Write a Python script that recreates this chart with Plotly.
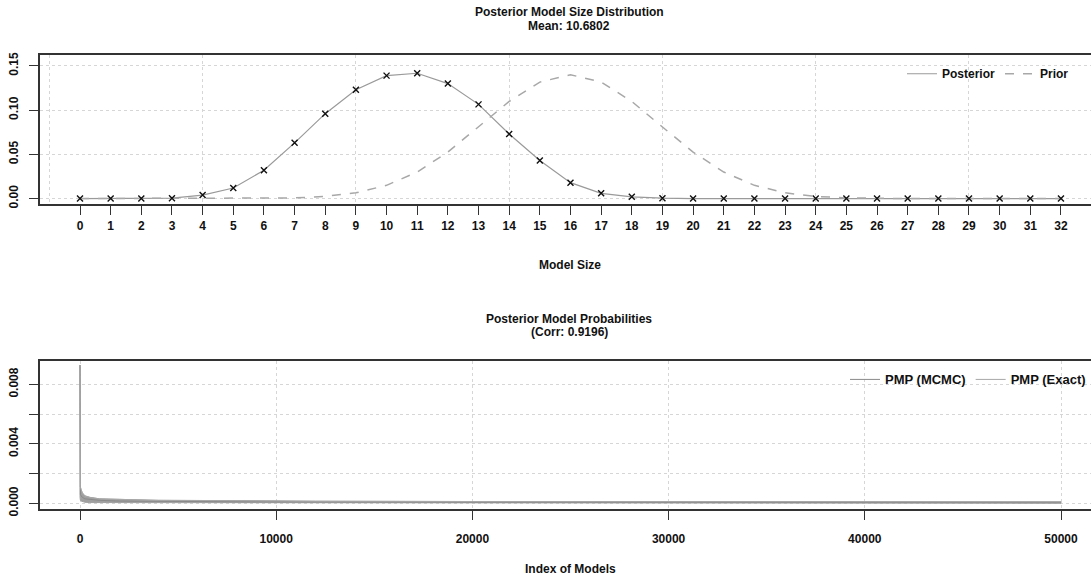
import plotly.graph_objects as go

W, H = 1091, 586

# ---------------- data ----------------
model_size = list(range(0, 33))
posterior = [0.0, 0.0, 0.0, 0.0005, 0.004, 0.012, 0.032, 0.063, 0.096, 0.123, 0.139,
             0.1417, 0.130, 0.1065, 0.073, 0.043, 0.018, 0.006, 0.002, 0.0005,
             0.0, 0.0, 0.0, 0.0, 0.0, 0.0, 0.0, 0.0, 0.0, 0.0, 0.0, 0.0, 0.0]
prior = [0.0, 0.0, 0.0, 0.0, 0.00001, 0.00005, 0.0002, 0.0008, 0.0025, 0.0065, 0.015,
         0.030, 0.0526, 0.0809, 0.1098, 0.1317, 0.1400, 0.1317, 0.1098, 0.0809,
         0.0526, 0.030, 0.015, 0.0065, 0.0025, 0.0008, 0.0002, 0.00005, 0.00001,
         0.0, 0.0, 0.0, 0.0]

pmp_index = [1, 2, 20, 60, 120, 250, 500, 1000, 2000, 4000, 8000, 12000, 20000,
             30000, 40000, 50000]
pmp_exact_upper = [0.0093, 0.0012, 0.0011, 0.0009, 0.0007, 0.0005, 0.0004, 0.0003,
                   0.00026, 0.0002, 0.00018, 0.00014, 0.00012, 0.0001, 0.0001, 0.0001]
pmp_exact_lower = [0.0093, 0.0004, 0.0002, 0.00015, 0.0001, 0.00007, 0.00005, 0.00004,
                   0.00003, 0.00002, 0.00002, 0.00001, 0.00001, 0.00001, 0.0, 0.0]
pmp_mcmc = [0.0093, 0.0008, 0.0006, 0.0005, 0.0004, 0.0003, 0.00025, 0.0002,
            0.00015, 0.00012, 0.0001, 0.00009, 0.00008, 0.00007, 0.00006, 0.00005]

title_top = "Posterior Model Size Distribution"
subtitle_top = "Mean: 10.6802"
title_bot = "Posterior Model Probabilities"
subtitle_bot = "(Corr: 0.9196)"

# ---------------- helpers ----------------
def px(x):
    return x / W

def py(y):
    return 1 - y / H

TITLE_FONT = dict(family="Liberation Sans Narrow, Liberation Sans, Arial", size=12,
                  color="#111111", weight="bold")
TICK_FONT = dict(family="Liberation Sans, Arial", size=12, color="#111111", weight="bold")
GRID = "#d6d6d6"
AXIS = "#333333"

fig = go.Figure()

# ---- top panel ----
fig.add_trace(go.Scatter(x=model_size, y=posterior, mode="lines", name="Posterior",
                         line=dict(color="#9a9a9a", width=1.2),
                         xaxis="x", yaxis="y", legend="legend", legendrank=1))
fig.add_trace(go.Scatter(x=model_size, y=prior, mode="lines", name="Prior",
                         line=dict(color="#a8a8a8", width=1.5, dash="dash"),
                         xaxis="x", yaxis="y", legend="legend", legendrank=2))
fig.add_trace(go.Scatter(x=model_size, y=posterior, mode="markers", showlegend=False,
                         marker=dict(symbol="x-thin-open", size=6, color="#111111",
                                     line=dict(width=1.4, color="#111111")),
                         xaxis="x", yaxis="y"))

# ---- bottom panel ----
fig.add_trace(go.Scatter(x=pmp_index + pmp_index[::-1],
                         y=pmp_exact_upper + pmp_exact_lower[::-1],
                         fill="toself", fillcolor="#a0a0a0", mode="lines",
                         line=dict(color="#a0a0a0", width=1), showlegend=False,
                         hoverinfo="skip", xaxis="x2", yaxis="y2"))
fig.add_trace(go.Scatter(x=pmp_index, y=pmp_mcmc, mode="lines", name="PMP (MCMC)",
                         line=dict(color="#8a8a8a", width=1),
                         xaxis="x2", yaxis="y2", legend="legend2", legendrank=1))
fig.add_trace(go.Scatter(x=pmp_index, y=pmp_exact_upper, mode="lines", name="PMP (Exact)",
                         line=dict(color="#a8a8a8", width=1),
                         xaxis="x2", yaxis="y2", legend="legend2", legendrank=2))

# ---------------- axes ----------------
top_dom_y = [py(204), py(53)]
bot_dom_y = [py(515), py(364)]
x_dom = [px(40), 1.0]

fig.update_layout(
    width=W, height=H, margin=dict(l=0, r=0, t=0, b=0),
    paper_bgcolor="white", plot_bgcolor="white",
    xaxis=dict(domain=x_dom, range=[-1.305, 32.98], anchor="y",
               tickvals=model_size, ticktext=[str(v) for v in model_size],
               ticks="outside", ticklen=9, tickwidth=1.3, tickcolor=AXIS,
               tickfont=TICK_FONT, ticklabelstandoff=1,
               showline=True, linecolor=AXIS, linewidth=2, mirror=True,
               showgrid=False, zeroline=False,
               minor=dict(tickvals=[-1, 4, 9, 14, 19, 24, 29], showgrid=True,
                          gridcolor=GRID, griddash="dot", gridwidth=1, ticklen=0)),
    yaxis=dict(domain=top_dom_y, range=[-0.00556, 0.1622], anchor="x",
               tickvals=[0, 0.05, 0.10, 0.15], ticktext=["0.00", "0.05", "0.10", "0.15"],
               tickangle=-90, ticks="outside", ticklen=9, tickwidth=1.3, tickcolor=AXIS,
               tickfont=TICK_FONT, ticklabelstandoff=6,
               showline=True, linecolor=AXIS, linewidth=2,
               showgrid=True, gridcolor=GRID, griddash="dot", gridwidth=1, zeroline=False),
    xaxis2=dict(domain=x_dom, range=[-2039, 51529], anchor="y2",
                tickvals=[0, 10000, 20000, 30000, 40000, 50000],
                ticktext=["0", "10000", "20000", "30000", "40000", "50000"],
                ticks="outside", ticklen=9, tickwidth=1.3, tickcolor=AXIS,
                tickfont=TICK_FONT, ticklabelstandoff=8,
                showline=True, linecolor=AXIS, linewidth=2, mirror=True,
                showgrid=True, gridcolor=GRID, griddash="dot", gridwidth=1, zeroline=False),
    yaxis2=dict(domain=bot_dom_y, range=[-0.000397, 0.009587], anchor="x2",
                tickvals=[0, 0.002, 0.004, 0.006, 0.008],
                ticktext=["0.000", "", "0.004", "", "0.008"],
                tickangle=-90, ticks="outside", ticklen=9, tickwidth=1.3, tickcolor=AXIS,
                tickfont=TICK_FONT, ticklabelstandoff=6,
                showline=True, linecolor=AXIS, linewidth=2,
                showgrid=True, gridcolor=GRID, griddash="dot", gridwidth=1, zeroline=False),
    legend=dict(orientation="h", x=px(1074), xanchor="right", y=py(72), yanchor="middle",
                bgcolor="rgba(0,0,0,0)", font=dict(family="Liberation Sans, Arial", size=12,
                                                   color="#111111", weight="bold"),
                traceorder="normal"),
    legend2=dict(orientation="h", x=1.0, xanchor="right", y=py(383), yanchor="middle",
                 bgcolor="rgba(0,0,0,0)", font=dict(family="Liberation Sans, Arial", size=13,
                                                    color="#111111", weight="bold"),
                 traceorder="normal"),
    showlegend=True,
)

ann = [
    (title_top, 569, 9), (subtitle_top, 569, 23),
    (title_bot, 569, 321), (subtitle_bot, 569, 335),
]
for text, x, y in ann:
    fig.add_annotation(text=text, x=px(x), y=py(y), xref="paper", yref="paper",
                       showarrow=False, xanchor="center", yanchor="middle", font=TITLE_FONT)

for text, x, y in [("Model Size", 570, 267), ("Index of Models", 570, 576)]:
    fig.add_annotation(text=text, x=px(x), y=py(y), xref="paper", yref="paper",
                       showarrow=False, xanchor="center", yanchor="middle",
                       font=dict(family="Liberation Sans, Arial", size=12, color="#111111",
                                 weight="bold"))

fig.write_html("out.html")
